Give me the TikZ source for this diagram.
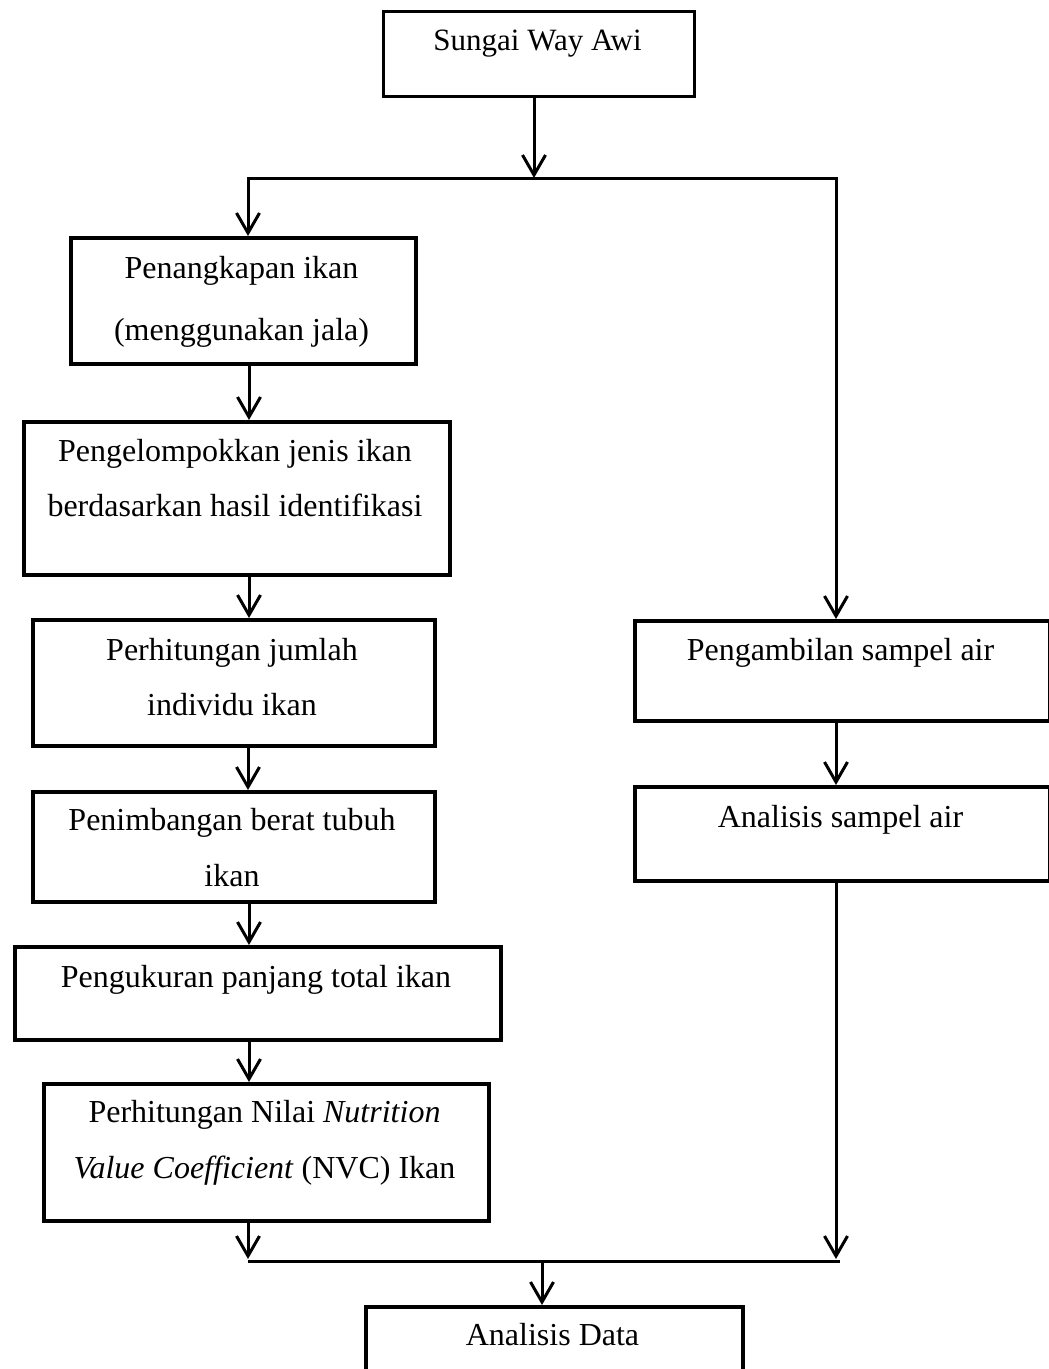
\documentclass[tikz,border=0pt]{standalone}
\usepackage{fontspec}
\setmainfont{Liberation Serif}
\usetikzlibrary{arrows.meta}
\tikzset{
  box/.style={draw, line width=3.5pt, rectangle, inner sep=0pt, anchor=north west},
  txt/.style={anchor=base, inner sep=0pt, font=\fontsize{32}{38}\selectfont},
  toptxt/.style={anchor=base, inner sep=0pt, font=\fontsize{31}{36}\selectfont},
  conn/.style={line width=3pt},
  arr/.style={line width=3pt, -{Straight Barb[length=20pt,width=23pt]}}
}
\begin{document}
\begin{tikzpicture}[x=1pt,y=-1pt]
\useasboundingbox (0,0) rectangle (1049,1369);
\clip (0,0) rectangle (1049,1369);
% boxes
\node[box, line width=3pt, minimum width=311pt, minimum height=85pt] (top) at (382,10) {};
\node[box, minimum width=345pt, minimum height=126pt] (b1) at (69,236) {};
\node[box, minimum width=426pt, minimum height=153pt] (b2) at (22,420) {};
\node[box, minimum width=402pt, minimum height=126pt] (b3) at (31,618) {};
\node[box, minimum width=402pt, minimum height=110pt] (b4) at (31,790) {};
\node[box, minimum width=486pt, minimum height=93pt] (b5) at (13,945) {};
\node[box, minimum width=445pt, minimum height=137pt] (b6) at (42,1082) {};
\node[box, minimum width=415pt, minimum height=100pt] (r1) at (633,619) {};
\node[box, minimum width=415pt, minimum height=94pt] (r2) at (633,785) {};
\node[box, minimum width=377pt, minimum height=100pt] (b7) at (364,1305) {};
% texts
\node[toptxt] (ttop) at (537.5,50) {Sungai Way Awi};
\node[txt] (t1a) at (241.5,278) {Penangkapan ikan};
\node[txt] (t1b) at (241.5,340) {(menggunakan jala)};
\node[txt] (t2a) at (235,461) {Pengelompokkan jenis ikan};
\node[txt] (t2b) at (235,516) {berdasarkan hasil identifikasi};
\node[txt] (t3a) at (232,660) {Perhitungan jumlah};
\node[txt] (t3b) at (232,715) {individu ikan};
\node[txt] (t4a) at (232,830) {Penimbangan berat tubuh};
\node[txt] (t4b) at (232,886) {ikan};
\node[txt] (t5a) at (256,987) {Pengukuran panjang total ikan};
\node[txt] (t6a) at (264.5,1122) {Perhitungan Nilai \textit{Nutrition}};
\node[txt] (t6b) at (264.5,1178) {\textit{Value Coefficient} (NVC) Ikan};
\node[txt] (tr1) at (840.5,660) {Pengambilan sampel air};
\node[txt] (tr2) at (840.5,827) {Analisis sampel air};
\node[txt] (t7) at (552.5,1345) {Analisis Data};
% junction coordinates
\coordinate (jt) at (534,178);
\coordinate (jl) at (248,178);
\coordinate (jr) at (836,178);
\coordinate (xl) at (249,0);
\coordinate (bl) at (248,1259);
\coordinate (br) at (836,1259);
\coordinate (bL) at (248,1261);
\coordinate (bR) at (840,1261);
\coordinate (bm) at (542,1261);
% connectors
\draw[arr] (jt |- top.south) -- (jt);
\draw[conn, line cap=rect] (jl) -- (jr);
\draw[arr] (jl) -- (jl |- b1.north);
\draw[arr] (xl |- b1.south) -- (xl |- b2.north);
\draw[arr] (xl |- b2.south) -- (xl |- b3.north);
\draw[arr] (jl |- b3.south) -- (jl |- b4.north);
\draw[arr] (xl |- b4.south) -- (xl |- b5.north);
\draw[arr] (xl |- b5.south) -- (xl |- b6.north);
\draw[arr] (bl |- b6.south) -- (bl);
\draw[arr] (jr) -- (jr |- r1.north);
\draw[arr] (jr |- r1.south) -- (jr |- r2.north);
\draw[arr] (br |- r2.south) -- (br);
\draw[conn] (bL) -- (bR);
\draw[arr] (bm) -- (bm |- b7.north);
\end{tikzpicture}
\end{document}
